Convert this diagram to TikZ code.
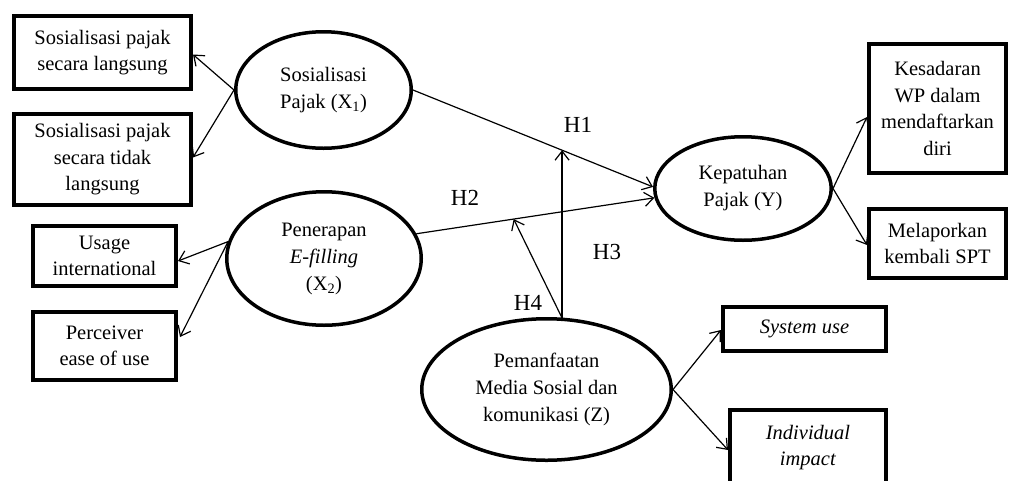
\documentclass[tikz,border=0pt]{standalone}
\usepackage{fontspec}
\setmainfont{Liberation Serif}
\usetikzlibrary{arrows.meta,calc,shapes.geometric}
\begin{document}
\begin{tikzpicture}[x=1pt,y=-1pt,
  box/.style={draw,line width=4pt,rectangle,inner sep=0pt,align=center,
    font=\fontsize{20.5}{26.5}\selectfont},
  oval/.style={draw,line width=3.5pt,ellipse,inner sep=0pt,align=center,
    font=\fontsize{20.5}{27}\selectfont},
  arr/.style={line width=1.2pt,-{Straight Barb[length=9pt,width=14pt,line width=1.2pt]}},
  hyp/.style={font=\fontsize{23}{27}\selectfont,inner sep=0pt}]
\useasboundingbox (0,0) rectangle (1011,480);
% indicator boxes
\node[box,minimum width=177,minimum height=73] (b1) at (102.5,52.5) {Sosialisasi pajak\\secara langsung};
\node[box,minimum width=177,minimum height=91] (b2) at (102.5,159.5) {Sosialisasi pajak\\secara tidak\\langsung};
\node[box,minimum width=143,minimum height=60] (b3) at (104.5,256) {Usage\\international};
\node[box,minimum width=143,minimum height=68] (b4) at (104.5,346) {Perceiver\\ease of use};
\node[box,minimum width=137,minimum height=129] (kes) at (937.5,108.5) {Kesadaran\\WP dalam\\mendaftarkan\\diri};
\node[box,minimum width=137,minimum height=69] (mel) at (937.5,243.5) {Melaporkan\\kembali SPT};
\node[box,minimum width=163,minimum height=44] (sys) at (804.5,329) {\textit{System use}};
\node[box,minimum width=156,minimum height=75] (ind) at (808,447.5) {\textit{Individual}\\\textit{impact}};
% constructs
\node[oval,minimum width=175.5,minimum height=116.5] (x1) at (323.5,90) {Sosialisasi\\Pajak (X\textsubscript{1})};
\node[oval,minimum width=194.5,minimum height=133.5] (x2) at (324,258.5) {Penerapan\\\textit{E-filling}\\(X\textsubscript{2})};
\node[oval,minimum width=176.5,minimum height=103.5] (y) at (743,188.5) {Kepatuhan\\Pajak (Y)};
\node[oval,minimum width=249.5,minimum height=141.5] (z) at (546.5,389.5) {Pemanfaatan\\Media Sosial dan\\komunikasi (Z)};
% hypothesis labels
\node[hyp] (h1) at (578,125) {H1};
\node[hyp] (h2) at (465,198) {H2};
\node[hyp] (h3) at (607,252) {H3};
\node[hyp] (h4) at (528,303) {H4};
% reflective arrows
\draw[arr] (x1.west) -- ($(b1.east)+(0,2)$);
\draw[arr] (x1.west) -- ($(b2.east)+(0,-2)$);
\draw[arr] (x2.170) -- ($(b3.east)+(0,5)$);
\draw[arr] (x2.170) -- ($(b4.east)+(2,-9)$);
\draw[arr] (y.east) -- ($(kes.west)+(0,8.5)$);
\draw[arr] (y.east) -- ($(mel.west)+(0,1.5)$);
\draw[arr] (z.east) -- ($(sys.west)+(0,1)$);
\draw[arr] (z.east) -- ($(ind.west)+(0,2.5)$);
% structural paths
\draw[arr] (x1.east) -- (y.179);
\draw[arr] (x2.15) -- (y.186);
\coordinate (h1t) at ($(x1.east)!0.621!(y.179)$);
\coordinate (h2t) at ($(x2.15)!0.409!(y.186)$);
\coordinate (zt) at ($(h1t |- z.north)+(0,1)$);
\draw[arr] (zt) -- (h1t);
\draw[arr] (zt) -- (h2t);
\end{tikzpicture}
\end{document}
